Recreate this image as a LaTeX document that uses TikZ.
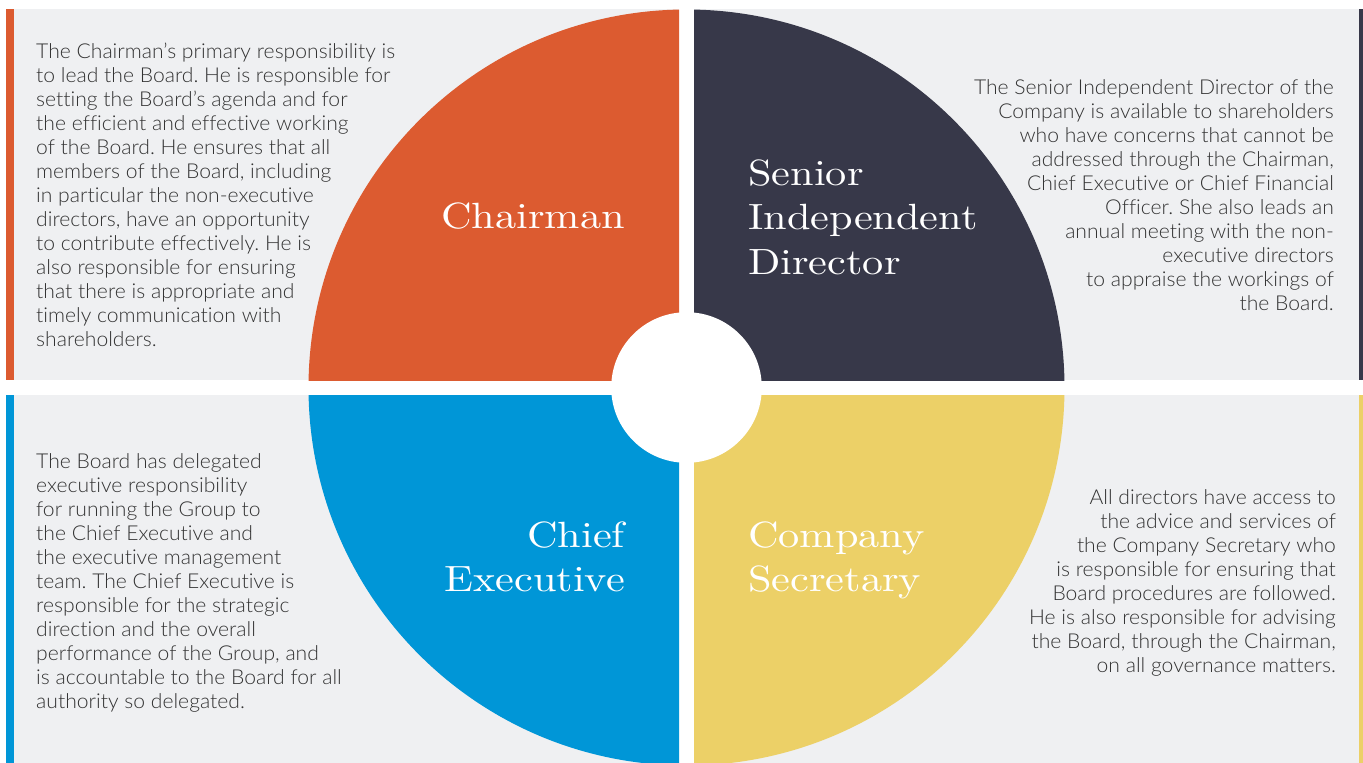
\documentclass[tikz,border=0pt]{standalone}
\usepackage{fontspec}
\setmainfont{Lato Light}[FakeStretch=1.03, Ligatures=NoCommon]
\newfontfamily\titlefont{lmroman10-regular.otf}[FakeStretch=1.16]

\definecolor{panelgrey}{HTML}{EFF0F2}
\definecolor{chairorange}{HTML}{DC5B30}
\definecolor{sidnavy}{HTML}{373849}
\definecolor{ceoblue}{HTML}{0096D7}
\definecolor{secyellow}{HTML}{ECD067}
\definecolor{bodygrey}{HTML}{333333}

% stacked lines, first baseline is the box baseline
\newcommand\leftlines[1]{\vtop{\baselineskip=24pt\lineskiplimit=-20pt\halign{##\hfil\cr#1\crcr}}}
\newcommand\rightlines[1]{\vtop{\baselineskip=24pt\lineskiplimit=-20pt\halign{\hfil##\cr#1\crcr}}}
\newcommand\titleleft[1]{\vtop{\baselineskip=44.5pt\lineskiplimit=-40pt\halign{##\hfil\cr#1\crcr}}}
\newcommand\titleright[1]{\vtop{\baselineskip=44.5pt\lineskiplimit=-40pt\halign{\hfil##\cr#1\crcr}}}

\tikzset{
  bodytext/.style={inner sep=0pt, text=bodygrey, font=\fontsize{20.5}{24}\selectfont\frenchspacing},
  roletitle/.style={inner sep=0pt, text=white, font=\titlefont\fontsize{36.5}{44.5}\selectfont},
}

\begin{document}
\begin{tikzpicture}[x=1pt,y=-1pt]
\useasboundingbox (0,0) rectangle (1363,763);
\fill[white] (0,0) rectangle (1363,763);

\coordinate (hub) at (686.5,387.5);

% grey panels
\fill[panelgrey] (14,9) rectangle (679,380);
\fill[panelgrey] (694,9) rectangle (1359,380);
\fill[panelgrey] (14,395) rectangle (679,763);
\fill[panelgrey] (694,395) rectangle (1359,763);

% coloured edge strips
\fill[chairorange] (6,9) rectangle (14,380);
\fill[sidnavy] (1359,9) rectangle (1363,380);
\fill[ceoblue] (6,395) rectangle (14,763);
\fill[secyellow] (1359,395) rectangle (1363,763);

% quarter discs
\begin{scope}
  \clip (14,9) rectangle (679,380);
  \fill[chairorange] (hub) circle[radius=378pt];
\end{scope}
\begin{scope}
  \clip (694,9) rectangle (1359,380);
  \fill[sidnavy] (hub) circle[radius=378pt];
\end{scope}
\begin{scope}
  \clip (14,395) rectangle (679,763);
  \fill[ceoblue] (hub) circle[radius=378pt];
\end{scope}
\begin{scope}
  \clip (694,395) rectangle (1359,763);
  \fill[secyellow] (hub) circle[radius=378pt];
\end{scope}

% central hole
\fill[white] (hub) circle[radius=75.3pt];

% role titles
\node[roletitle, anchor=base east] (chairman) at (625,228) {\titleright{Chairman}};
\node[roletitle, anchor=base west] (sid) at (748,185) {\titleleft{Senior\cr Independent\cr Director}};
\node[roletitle, anchor=base east] (ceo) at (625,547) {\titleright{Chief\cr Executive}};
\node[roletitle, anchor=base west] (cosec) at (748,547) {\titleleft{Company\cr Secretary}};

% descriptions
\node[bodytext, anchor=base west] (chairtext) at (36,58) {\leftlines{%
The Chairman’s primary responsibility is\cr
to lead the Board. He is responsible for\cr
setting the Board’s agenda and for\cr
the efficient and effective working\cr
of the Board. He ensures that all\cr
members of the Board, including\cr
in particular the non-executive\cr
directors, have an opportunity\cr
to contribute effectively. He is\cr
also responsible for ensuring\cr
that there is appropriate and\cr
timely communication with\cr
shareholders.}};

\node[bodytext, anchor=base east] (sidtext) at (1334,94) {\rightlines{%
The Senior Independent Director of the\cr
Company is available to shareholders\cr
who have concerns that cannot be\cr
addressed through the Chairman,\cr
Chief Executive or Chief Financial\cr
Officer. She also leads an\cr
annual meeting with the non-\cr
executive directors\cr
to appraise the workings of\cr
the Board.}};

\node[bodytext, anchor=base west] (ceotext) at (36,468) {\leftlines{%
The Board has delegated\cr
executive responsibility\cr
for running the Group to\cr
the Chief Executive and\cr
the executive management\cr
team. The Chief Executive is\cr
responsible for the strategic\cr
direction and the overall\cr
performance of the Group, and\cr
is accountable to the Board for all\cr
authority so delegated.}};

\node[bodytext, anchor=base east] (cosectext) at (1336,504) {\rightlines{%
All directors have access to\cr
the advice and services of\cr
the Company Secretary who\cr
is responsible for ensuring that\cr
Board procedures are followed.\cr
He is also responsible for advising\cr
the Board, through the Chairman,\cr
on all governance matters.}};
\end{tikzpicture}
\end{document}
